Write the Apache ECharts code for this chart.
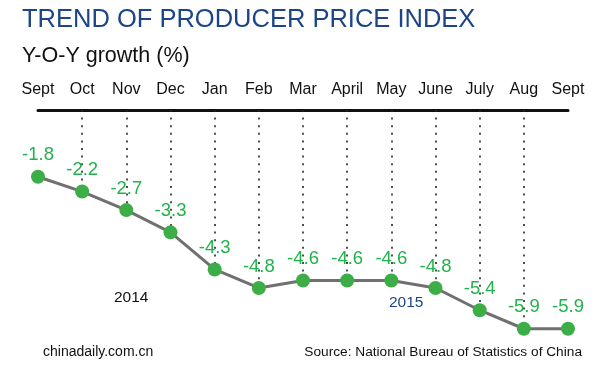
<!DOCTYPE html>
<html><head><meta charset="utf-8">
<script src="https://cdn.jsdelivr.net/npm/echarts@6/dist/echarts.min.js"></script>
<style>html,body{margin:0;padding:0;background:#fff}#c{width:600px;height:369px}</style>
</head><body><div id="c"></div>
<script>
const months = ['Sept','Oct','Nov','Dec','Jan','Feb','Mar','April','May','June','July','Aug','Sept'];
const ppi = [-1.8,-2.2,-2.7,-3.3,-4.3,-4.8,-4.6,-4.6,-4.6,-4.8,-5.4,-5.9,-5.9];
const yearLabels = ['2014','2015'];

const dotLines = [];
for (let i = 1; i < months.length - 1; i++) {
  dotLines.push([{coord:[i, 0]}, {coord:[i, ppi[i]]}]);
}

const chart = echarts.init(document.getElementById('c'), null, {renderer:'canvas'});
chart.setOption({
  animation:false,
  backgroundColor:'#fff',
  textStyle:{fontFamily:'Liberation Sans, Arial, sans-serif'},
  grid:{left:38, right:32, top:110, bottom:18},
  title:[
    {text:'TREND OF PRODUCER PRICE INDEX', left:22, top:7, padding:0,
     textStyle:{fontFamily:'Liberation Sans', fontSize:25.5, fontWeight:'normal', color:'#1c4587'}},
    {text:'Y-O-Y growth (%)', left:22, top:45, padding:0,
     textStyle:{fontFamily:'Liberation Sans', fontSize:21.5, fontWeight:'normal', color:'#111'}}
  ],
  graphic:[
    {type:'text', left:114, top:290, style:{text:yearLabels[0], font:'15.5px Liberation Sans', fill:'#111'}},
    {type:'text', left:389, top:295, style:{text:yearLabels[1], font:'15.5px Liberation Sans', fill:'#1c4587'}},
    {type:'text', left:43, top:345, style:{text:'chinadaily.com.cn', font:'14px Liberation Sans', fill:'#111'}},
    {type:'text', right:18, top:345, style:{text:'Source: National Bureau of Statistics of China', font:'13.7px Liberation Sans', fill:'#111'}}
  ],
  xAxis:{
    type:'category', data:months, position:'top', boundaryGap:false,
    axisLine:{show:true, lineStyle:{color:'#111', width:3}},
    axisTick:{show:false},
    axisLabel:{color:'#111', fontSize:16, margin:12, interval:0, fontFamily:'Liberation Sans'},
    splitLine:{show:false}
  },
  yAxis:{type:'value', min:-6.5, max:0, show:false, splitLine:{show:false}},
  series:[{
    type:'line', data:ppi,
    symbol:'circle', symbolSize:14,
    itemStyle:{color:'#3dae47'},
    lineStyle:{color:'#707070', width:3},
    z:3,
    label:{show:true, position:'top', distance:5, color:'#20b24b', fontSize:18.5, fontFamily:'Liberation Sans',
      formatter:p=>p.value.toFixed(1)},
    markLine:{
      silent:true, symbol:['none','none'], z:1,
      label:{show:false},
      lineStyle:{color:'#222', width:1.6, type:[2,5.6]},
      data:dotLines
    }
  }]
});
</script></body></html>
